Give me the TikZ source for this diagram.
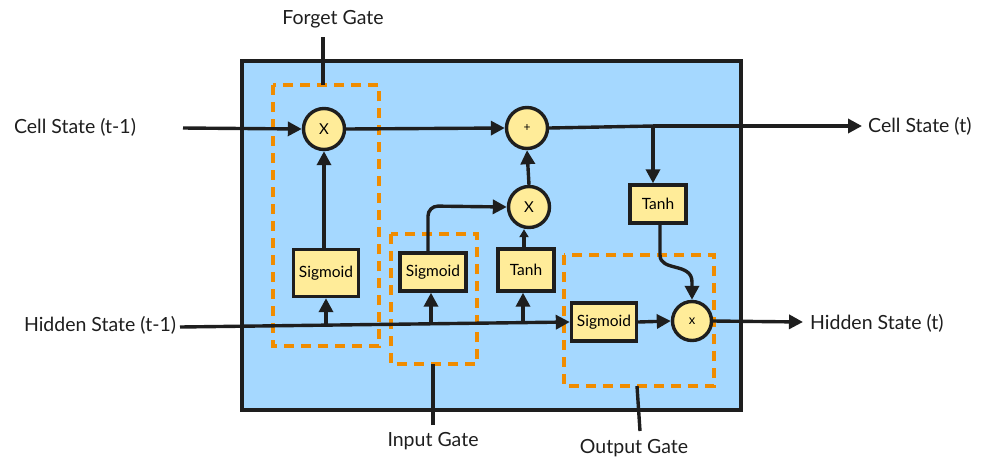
\documentclass[tikz,border=0pt]{standalone}
\usepackage{fontspec}
\setmainfont{Lato}
\usetikzlibrary{arrows.meta}
\definecolor{cellblue}{HTML}{A5D8FF}
\definecolor{opyellow}{HTML}{FFEC99}
\definecolor{gateorange}{HTML}{F08C00}
\definecolor{ink}{HTML}{1E1E1E}
\tikzset{
  flow/.style={draw=ink, line width=3.4pt, -{Triangle[length=14pt,width=14pt]}},
  plainline/.style={draw=ink, line width=3.4pt},
  opbox/.style={draw=ink, line width=3.4pt, fill=opyellow, inner sep=0pt, font=\fontsize{15.5}{18}\selectfont},
  opcirc/.style={draw=ink, line width=3.4pt, fill=opyellow, circle, inner sep=0pt, minimum size=41pt},
  gatebox/.style={draw=gateorange, line width=3.6pt, dash pattern=on 10pt off 7pt},
  lbl/.style={font=\fontsize{19.5}{23}\selectfont, text=ink, inner sep=0pt}
}
\begin{document}
\begin{tikzpicture}[x=1pt, y=-1pt]
\useasboundingbox (0,0) rectangle (988,459);

% cell body
\draw[draw=ink, line width=3.6pt, fill=cellblue] (242,61) rectangle (741,410);

% gate outlines
\draw[gatebox] (273,85) rectangle (379,346);
\draw[gatebox] (391,234) rectangle (477,364);
\draw[gatebox] (564,255) rectangle (714,386);

% operators
\node[opcirc, font=\fontsize{15}{18}\selectfont] (fx) at (324,129) {X};
\node[opcirc, font=\fontsize{12}{14}\selectfont] (plus) at (527,128) {+};
\node[opcirc, font=\fontsize{15}{18}\selectfont] (ix) at (529,207) {X};
\node[opcirc, minimum size=39pt, font=\fontsize{13}{15}\selectfont] (ox) at (692,321) {x};
\node[opbox, minimum width=65pt, minimum height=47pt] (sg1) at (326,273) {Sigmoid};
\node[opbox, minimum width=66pt, minimum height=38pt] (sg2) at (433,272) {Sigmoid};
\node[opbox, minimum width=56pt, minimum height=42pt] (th1) at (526,270) {Tanh};
\node[opbox, minimum width=65pt, minimum height=38pt] (sg3) at (604,322) {Sigmoid};
\node[opbox, minimum width=56pt, minimum height=38pt] (th2) at (658,204) {Tanh};

% outer labels
\node[lbl] (cin) at (75,127) {Cell State (t-1)};
\node[lbl] (hin) at (100,325) {Hidden State (t-1)};
\node[lbl, anchor=west] (cout) at (868,126) {Cell State (t)};
\node[lbl, anchor=west] (hout) at (810,323) {Hidden State (t)};
\node[lbl] (fg) at (333,19) {Forget Gate};
\node[lbl] (ig) at (433,441) {Input Gate};
\node[lbl] (og) at (634,448) {Output Gate};

% free ends
\coordinate (cinA) at (183,128);
\coordinate (hinA) at (180,327);
\coordinate (coutB) at (862,126);
\coordinate (houtB) at (803,322);
\coordinate (ctap) at (653,126);
\coordinate (b1) at (326,325.5);
\coordinate (b2) at (431,324.5);
\coordinate (b3) at (523,323.8);
\coordinate (bend) at (428,206);
\coordinate (fgA) at (323,37);
\coordinate (igA) at (433,425);
\coordinate (ogA) at (640,431);

% cell state path
\draw[flow] (cinA) -- (fx.west);
\draw[flow] (fx.east) -- (plus.west);
\draw[plainline] (plus.east) -- (ctap);
\draw[flow] (ctap) -- (coutB);
\draw[flow] (ctap) -- (ctap |- th2.north);

% hidden state path
\draw[flow] (hinA) -- (sg3.west);
\draw[flow] (b1) -- (sg1.south);
\draw[flow] (b2) -- (sg2.south -| b2);
\draw[flow] (b3) -- (th1.south -| b3);

% gate internals
\draw[flow] (sg1.north -| fx) -- (fx.south);
\draw[flow, rounded corners=10pt] (sg2.north -| bend) -- (bend) -- (ix.west);
\draw[draw=ink, line width=3.4pt, -{Triangle[length=8pt,width=9pt]}] (th1.north -| 524,0) -- (ix.south -| 524,0);
\draw[flow] (ix.north) -- (plus.south);
\draw[flow] (sg3.east) -- (ox.west);
\draw[flow] (th2.south -| 660,0) -- (660,255) .. controls (660,272) and (692,262) .. (692,282) -- (ox.north);
\draw[flow] (ox.east) -- (houtB);

% gate callouts
\draw[plainline] (fgA) -- (323,85);
\draw[plainline] (igA) -- (433,364);
\draw[plainline] (637,386) -- (ogA);
\end{tikzpicture}
\end{document}
